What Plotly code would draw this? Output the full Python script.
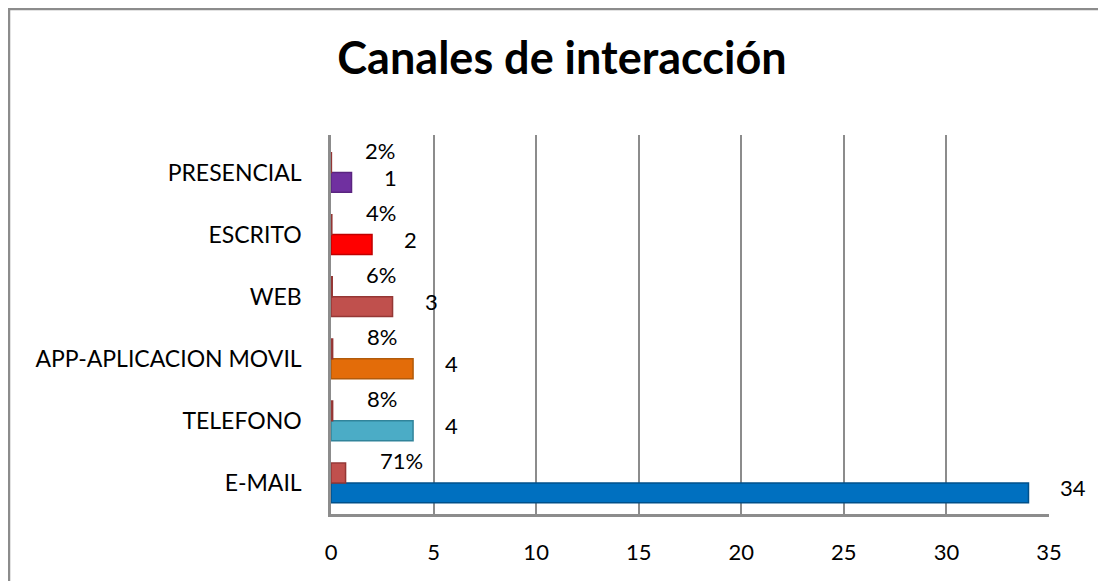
import plotly.graph_objects as go

categories = ["E-MAIL", "TELEFONO", "APP-APLICACION MOVIL", "WEB", "ESCRITO", "PRESENCIAL"]
counts = [34, 4, 4, 3, 2, 1]
percents = [0.71, 0.08, 0.08, 0.06, 0.04, 0.02]
pct_labels = ["71%", "8%", "8%", "6%", "4%", "2%"]
bar_colors = ["#0070C0", "#4BACC6", "#E36C09", "#C0504D", "#FF0000", "#7030A0"]
bar_edges = ["#00508A", "#31849B", "#B25A0A", "#953735", "#C00000", "#5A2480"]
x_ticks = [0, 5, 10, 15, 20, 25, 30, 35]

FONT = "Lato"
GRAY = "#8C8C8C"
# page body has an 8px margin, so figure pixel = page pixel - 8
W, H = 1098, 573

fig = go.Figure()

fig.add_trace(go.Bar(
    y=categories, x=counts, orientation="h", name="Cantidad",
    marker=dict(color=bar_colors, line=dict(color=bar_edges, width=1.5)),
    hoverinfo="x+y",
))
fig.add_trace(go.Bar(
    y=categories, x=percents, orientation="h", name="Porcentaje",
    marker=dict(color="#C0504D", line=dict(color="#943634", width=1.5)),
    hoverinfo="x+y",
))

annotations = []
for cat, c in zip(categories, counts):
    annotations.append(dict(
        x=c, y=cat, text=str(c), showarrow=False, xanchor="left",
        xshift=30, yshift=-5, font=dict(family=FONT, size=22, color="#000000"),
    ))
for cat, p, lab in zip(categories, percents, pct_labels):
    annotations.append(dict(
        x=p, y=cat, text=lab, showarrow=False, xanchor="left",
        xshift=32, yshift=22, font=dict(family=FONT, size=22, color="#000000"),
    ))

PLOT_L, PLOT_R, PLOT_T, PLOT_B = 323, 1041, 127, 506
pw = PLOT_R - PLOT_L
ph = PLOT_B - PLOT_T

fig.update_layout(
    width=W, height=H,
    paper_bgcolor="white", plot_bgcolor="white",
    barmode="group", bargap=0.36, bargroupgap=0.0,
    showlegend=False,
    margin=dict(l=PLOT_L, r=W - PLOT_R, t=PLOT_T, b=H - PLOT_B, autoexpand=False),
    title=dict(text="<b>Canales de interacción</b>", x=(562 - 8) / W, xanchor="center",
               y=1 - 50 / H, yanchor="middle",
               font=dict(family=FONT, size=45, color="#000000")),
    font=dict(family=FONT, size=22, color="#000000"),
    annotations=annotations,
    shapes=[dict(type="rect", xref="paper", yref="paper",
                 x0=(1 - PLOT_L) / pw, x1=(1200 - PLOT_L) / pw,
                 y0=(PLOT_B - 700) / ph, y1=(PLOT_B - 1) / ph,
                 line=dict(color=GRAY, width=2.5), layer="below")],
)

fig.update_xaxes(
    range=[0, 35], tickvals=x_ticks, ticktext=[str(v) for v in x_ticks],
    showgrid=True, gridcolor=GRAY, gridwidth=1.5, automargin=False,
    zeroline=False, showline=True, linecolor=GRAY, linewidth=2.5,
    ticks="", ticklabelstandoff=17,
    tickfont=dict(family=FONT, size=22, color="#000000"),
)
fig.update_yaxes(
    categoryorder="array", categoryarray=categories, automargin=False,
    showgrid=False, zeroline=False, showline=True, linecolor=GRAY, linewidth=2.5,
    ticks="", ticklabelstandoff=22,
    tickfont=dict(family=FONT, size=23, color="#000000"),
)

fig.write_html("out.html")
